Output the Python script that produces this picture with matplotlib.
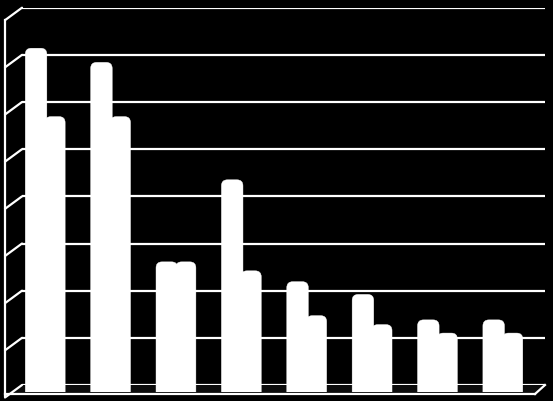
import matplotlib
matplotlib.use("Agg")
import matplotlib.pyplot as plt
from matplotlib.patches import FancyBboxPatch, Polygon
import numpy as np

# ---- data ----
categories = ["1", "2", "3", "4", "5", "6", "7", "8"]
series_a = [7.28, 6.98, 2.75, 4.49, 2.33, 2.06, 1.52, 1.52]
series_b = [5.83, 5.83, 2.75, 2.56, 1.61, 1.42, 1.24, 1.24]
y_ticks = [0, 1, 2, 3, 4, 5, 6, 7, 8]

W, H = 553, 401
fig = plt.figure(figsize=(W / 100, H / 100), dpi=100, facecolor="black")


def rect(l, t, r, b):
    return [l / W, 1 - b / H, (r - l) / W, (b - t) / H]


BACK_L, BACK_T, BACK_R, BACK_B = 22, 7.7, 545, 385
DX, DY = 17, 12.5  # depth offset of the 3D frame

# back wall with gridlines
ax = fig.add_axes(rect(BACK_L, BACK_T, BACK_R, BACK_B), zorder=0)
ax.set_facecolor("black")
ax.set_xlim(0, len(categories))
ax.set_ylim(y_ticks[0], y_ticks[-1])
ax.set_yticks(y_ticks)
ax.set_xticks([])
ax.grid(axis="y", color="white", linewidth=1.6)
ax.tick_params(left=False, labelleft=False)
for s in ax.spines.values():
    s.set_visible(False)

# overlay for left wall / floor
ov = fig.add_axes([0, 0, 1, 1], zorder=1)
ov.set_xlim(0, W)
ov.set_ylim(H, 0)
ov.axis("off")
ov.patch.set_alpha(0)
lw = 1.6
floor = Polygon([(5, 394), (BACK_L, BACK_B), (BACK_R, BACK_B), (535, 394)],
                closed=True, facecolor="#0c0c0c", edgecolor="none")
ov.add_patch(floor)
scale = (BACK_B - BACK_T) / (y_ticks[-1] - y_ticks[0])
for v in y_ticks:
    yb = BACK_B - (v - y_ticks[0]) * scale
    ov.plot([BACK_L, 5], [yb, yb + DY], color="white", lw=lw, solid_capstyle="round")
ov.plot([5, 5], [BACK_T + DY, 396], color="white", lw=lw)
ov.plot([5, 535], [394, 394], color="white", lw=lw)
ov.plot([535, BACK_R], [394, BACK_B], color="white", lw=lw)

# bars (drawn in the middle of depth)
bx = fig.add_axes(rect(BACK_L - DX / 2, BACK_T + DY / 2 + 0.3, BACK_R - DX / 2, BACK_B + DY / 2 + 0.3), zorder=2)
bx.set_xlim(0, len(categories))
bx.set_ylim(y_ticks[0], y_ticks[-1])
bx.axis("off")
bx.patch.set_alpha(0)

x = np.arange(len(categories)) + 0.5
bars_b = bx.bar(x - 0.02, series_b, 0.31, align="edge", color="white")
bars_a = bx.bar(x - 0.32, series_a, 0.33, align="edge", color="white")

px_x = (BACK_R - BACK_L) / len(categories)
px_y = (BACK_B - BACK_T) / (y_ticks[-1] - y_ticks[0])
aspect = px_x / px_y
r = 6.0 / px_x
for group, z in ((bars_b, 3), (bars_a, 4)):
    for b in group:
        x0, y0 = b.get_x(), b.get_y()
        bw, bh = b.get_width(), b.get_height()
        b.set_visible(False)
        p = FancyBboxPatch((x0, y0 - 0.3), bw, bh + 0.3,
                           boxstyle=f"round,pad=0,rounding_size={r}",
                           mutation_aspect=aspect,
                           facecolor="white", edgecolor="white", linewidth=0.3,
                           zorder=z)
        bx.add_patch(p)

fig.savefig("out.png", dpi=100, facecolor="black")
